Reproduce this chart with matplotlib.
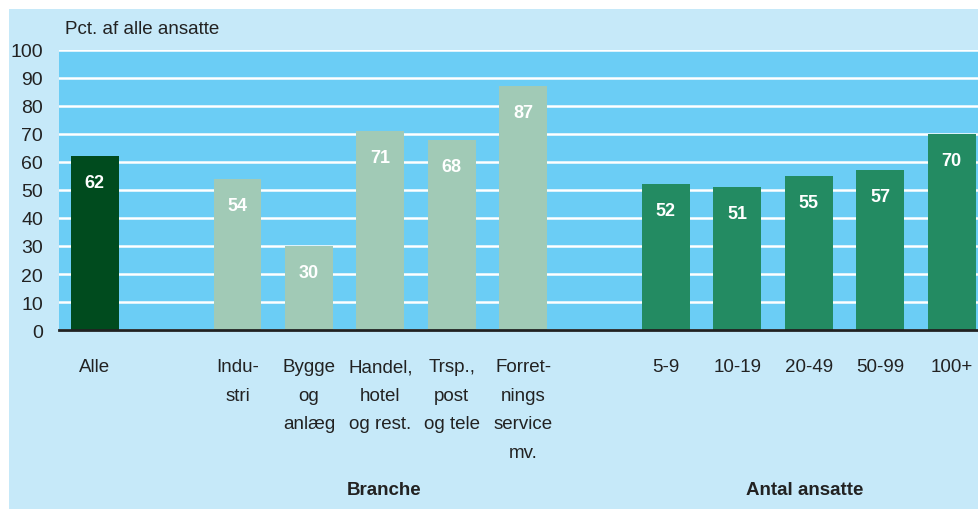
import numpy as np
import matplotlib.pyplot as plt
from matplotlib.patches import Rectangle
from matplotlib.transforms import blended_transform_factory

plt.rcParams['font.family'] = ['Liberation Sans', 'DejaVu Sans']

labels = ['Alle', '', 'Indu-\nstri', 'Bygge\nog\nanlæg', 'Handel,\nhotel\nog rest.',
          'Trsp.,\npost\nog tele', 'Forret-\nnings\nservice\nmv.', '',
          '5-9', '10-19', '20-49', '50-99', '100+']
values = [62, None, 54, 30, 71, 68, 87, None, 52, 51, 55, 57, 70]
groups = ['a', None, 'b', 'b', 'b', 'b', 'b', None, 'c', 'c', 'c', 'c', 'c']
colors = {'a': '#004b1e', 'b': '#a1cab6', 'c': '#238b62'}
group_titles = ['Branche', 'Antal ansatte']

fig = plt.figure(figsize=(9.79, 5.10), dpi=100)
fig.patch.set_facecolor('white')
fig.patches.append(Rectangle((9/979, 0), 1, 1 - 10/510, transform=fig.transFigure,
                             facecolor='#c6e9f9', edgecolor='none', zorder=-10))

ax = fig.add_axes([59/979, 179/510, 920/979, 280/510])
ax.set_facecolor('#6bcdf5')

x = np.arange(len(labels))
for xi, v, g in zip(x, values, groups):
    if v is None:
        continue
    ax.bar(xi, v, width=0.672, color=colors[g], zorder=3)
    ax.text(xi, v - 9.5, str(v), ha='center', va='center', color='white',
            fontsize=13, fontweight='bold', zorder=4)

ax.set_xlim(-0.5, 12.385)
ax.set_ylim(0, 100)
ax.set_yticks(range(0, 101, 10))
ax.yaxis.grid(True, color='white', linewidth=1.8)
ax.set_axisbelow(True)
for s in ['top', 'right', 'left']:
    ax.spines[s].set_visible(False)
ax.spines['bottom'].set_color('#222222')
ax.spines['bottom'].set_linewidth(2)
ax.spines['bottom'].set_zorder(5)

ax.set_xticks(x)
ax.set_xticklabels(labels, fontsize=13.5, linespacing=1.88, color='#222222')
ax.tick_params(axis='x', length=0, pad=20.5)
ax.tick_params(axis='y', length=0, pad=11.5, labelsize=14, labelcolor='#222222')

tr = blended_transform_factory(ax.transData, ax.transAxes)
ax.text(4.05, -0.57, group_titles[0], transform=tr, ha='center', va='center',
        fontsize=13.5, fontweight='bold', color='#222222')
ax.text(9.95, -0.57, group_titles[1], transform=tr, ha='center', va='center',
        fontsize=13.5, fontweight='bold', color='#222222')

fig.text(65/979, 1 - 29/510, 'Pct. af alle ansatte', ha='left', va='center',
         fontsize=13.5, color='#222222')

fig.savefig('out.png', dpi=100, facecolor=fig.get_facecolor())
